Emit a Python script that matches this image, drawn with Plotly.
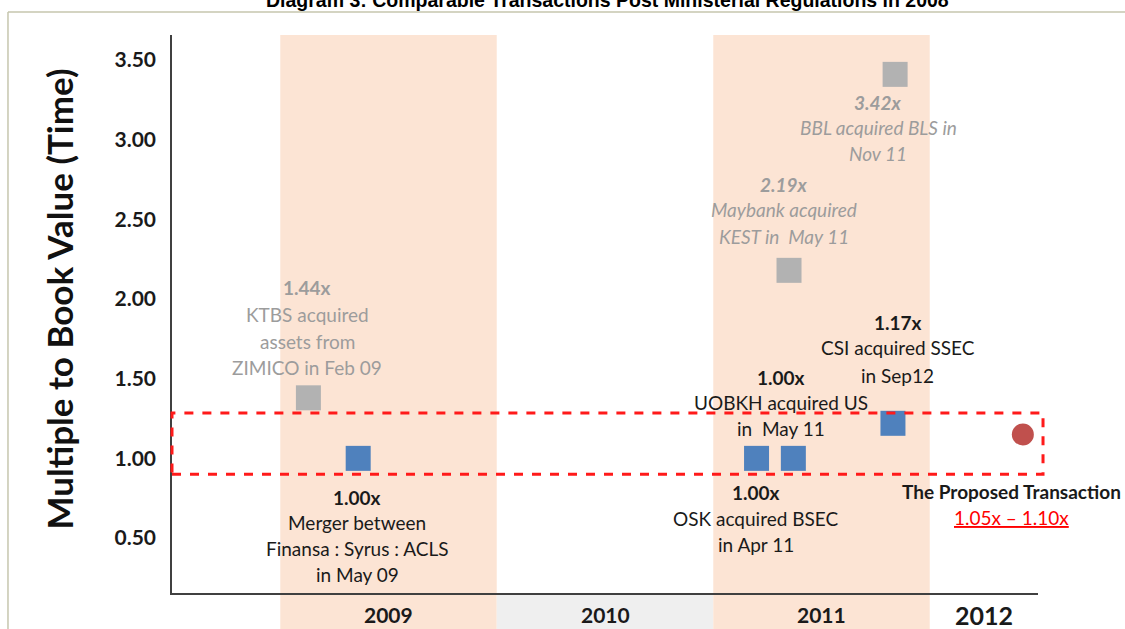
import plotly.graph_objects as go

# ---------------- data ----------------
deal_names = ["KTBS", "Merger", "OSK", "UOBKH", "Maybank", "CSI", "BBL", "Proposed"]
deal_dates = [2009.13, 2009.36, 2011.20, 2011.37, 2011.35, 2011.83, 2011.84, 2012.43]
deal_multiples = [1.38, 1.00, 1.00, 1.00, 2.18, 1.22, 3.41, 1.15]
deal_group = ["gray", "blue", "blue", "blue", "gray", "blue", "gray", "proposed"]

label_lines = {
    "KTBS": ["<b>1.44x</b>", "KTBS acquired", "assets from", "ZIMICO in Feb 09"],
    "Merger": ["<b>1.00x</b>", "Merger between", "Finansa : Syrus : ACLS", "in May 09"],
    "OSK": ["<b>1.00x</b>", "OSK acquired BSEC", "in Apr 11"],
    "UOBKH": ["<b>1.00x</b>", "UOBKH acquired US", "in  May 11"],
    "Maybank": ["<b>2.19x</b>", "Maybank acquired", "KEST in  May 11"],
    "CSI": ["<b>1.17x</b>", "CSI acquired SSEC", "in Sep12"],
    "BBL": ["<b>3.42x</b>", "BBL acquired BLS in", "Nov 11"],
    "Proposed": ["<b>The Proposed Transaction</b>", "<u>1.05x – 1.10x</u>"],
}

year_labels = ["2009", "2010", "2011", "2012"]
year_label_pos = [2009.5, 2010.5, 2011.5, 2012.25]
band_years = [2009, 2010, 2011]

y_ticks = [0.5, 1.0, 1.5, 2.0, 2.5, 3.0, 3.5]
proposed_range = [0.90, 1.285]

# ---------------- styles ----------------
COL = {"blue": "#4f81bd", "gray": "#b2b2b2", "proposed": "#c0504d"}
FONT = "Lato"
label_style = {
    "KTBS": dict(color="#9c9c9c", italic=False, dx=-1, dy=[110, 83, 56, 30]),
    "Merger": dict(color="#1a1a1a", italic=False, dx=-1, dy=[-39, -64, -90, -116]),
    "OSK": dict(color="#1a1a1a", italic=False, dx=-1, dy=[-34, -60, -86]),
    "UOBKH": dict(color="#1a1a1a", italic=False, dx=-12, dy=[81, 56, 30]),
    "Maybank": dict(color="#9c9c9c", italic=True, dx=-5, dy=[86, 61, 34]),
    "CSI": dict(color="#1a1a1a", italic=False, dx=5, dy=[101, 76, 48]),
    "BBL": dict(color="#9c9c9c", italic=True, dx=-17, dy=[-28, -53, -79]),
    "Proposed": dict(color="#1a1a1a", italic=False, dx=-11, dy=[-57, -83]),
}

fig = go.Figure()

# background bands
band_fill = {2009: "#fce4d4", 2010: None, 2011: "#fce4d4"}
for yr in band_years:
    if band_fill[yr]:
        fig.add_shape(type="rect", xref="x", yref="paper", x0=yr, x1=yr + 1,
                      y0=-0.07, y1=1.0, fillcolor=band_fill[yr], line_width=0, layer="below")
    else:
        fig.add_shape(type="rect", xref="x", yref="paper", x0=yr, x1=yr + 1,
                      y0=-0.07, y1=0.0, fillcolor="#efefef", line_width=0, layer="below")

# frame around the chart
fig.add_shape(type="line", xref="paper", yref="paper", x0=-0.1894, x1=1.11, y0=1.0412, y1=1.0412,
              line=dict(color="#c6c6ae", width=1.5))
fig.add_shape(type="line", xref="paper", yref="paper", x0=-0.1894, x1=-0.1894, y0=1.0412, y1=-0.1,
              line=dict(color="#c6c6ae", width=1.5))

# proposed range box
fig.add_shape(type="rect", xref="paper", yref="y", x0=0.0, x1=1.0058,
              y0=proposed_range[0], y1=proposed_range[1],
              line=dict(color="#ff1a1a", width=3, dash="dash"), fillcolor="rgba(0,0,0,0)")

# markers
for grp, sym, size in [("gray", "square", 25), ("blue", "square", 25), ("proposed", "circle", 22)]:
    xs = [d for d, g in zip(deal_dates, deal_group) if g == grp]
    ys = [m for m, g in zip(deal_multiples, deal_group) if g == grp]
    fig.add_trace(go.Scatter(x=xs, y=ys, mode="markers", showlegend=False, hoverinfo="skip",
                             marker=dict(symbol=sym, size=size, color=COL[grp], line_width=0)))

# labels
for name, x, y in zip(deal_names, deal_dates, deal_multiples):
    st = label_style[name]
    for line, dy in zip(label_lines[name], st["dy"]):
        txt = f"<i>{line}</i>" if st["italic"] else line
        col = st["color"]
        if name == "Proposed" and "1.05x" in line:
            col = "#ff0000"
        fig.add_annotation(x=x, y=y, xref="x", yref="y", text=txt, showarrow=False,
                           xshift=st["dx"], yshift=dy, xanchor="center", yanchor="middle",
                           font=dict(family=FONT, size=19, color=col))

# year labels
for lab, pos in zip(year_labels, year_label_pos):
    fig.add_annotation(x=pos, y=-0.039, xref="x", yref="paper", text=f"<b>{lab}</b>",
                       showarrow=False, yanchor="middle",
                       font=dict(family=FONT, size=25 if lab == "2012" else 21, color="#1a1a1a"))

# y-axis title
fig.add_annotation(x=-0.157, y=0.526, xref="paper", yref="paper",
                   text="<b>Multiple to Book Value (Time)</b>", textangle=-90, showarrow=False,
                   font=dict(family=FONT, size=35, color="#111111"))

# title (cut off at top, as in the source)
fig.add_annotation(x=0.503, y=1.0627, xref="paper", yref="paper",
                   text="<b>Diagram 3: Comparable Transactions Post Ministerial Regulations in 2008</b>",
                   showarrow=False, yanchor="middle",
                   font=dict(family="Liberation Sans", size=19.5, color="#000000"))

fig.update_layout(
    width=1125, height=629,
    margin=dict(l=172, r=87, t=35, b=36),
    paper_bgcolor="white", plot_bgcolor="rgba(0,0,0,0)",
    font=dict(family=FONT),
    xaxis=dict(range=[2008.5, 2012.5], showgrid=False, zeroline=False, showticklabels=False,
               showline=True, linecolor="#404040", linewidth=1.5, ticks=""),
    yaxis=dict(range=[0.155, 3.657], tickvals=y_ticks, tickformat=".2f", showgrid=False,
               zeroline=False, showline=True, linecolor="#404040", linewidth=1.5, ticks="",
               ticklabelstandoff=10,
               tickfont=dict(family=FONT, size=21, color="#1a1a1a", weight="bold")),
)

fig.write_html("out.html", config={"displayModeBar": False},
               post_script="document.body.style.margin='0';document.body.style.overflow='hidden';")
